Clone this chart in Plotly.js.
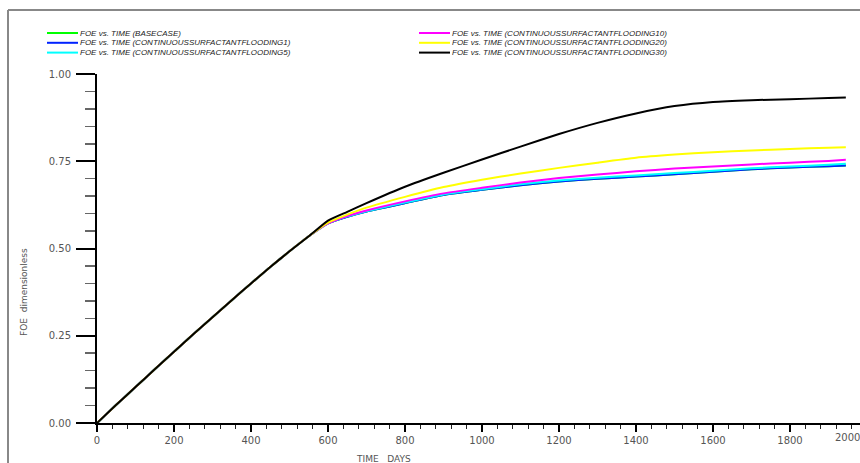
<!DOCTYPE html>
<html>
<head>
<meta charset="utf-8">
<script src="https://cdn.plot.ly/plotly-3.0.1.min.js"></script>
<style>
  html, body { margin: 0; padding: 0; background: #fff; overflow: hidden; }
  #chart { width: 875px; height: 463px; }
</style>
</head>
<body>
<div id="chart"></div>
<script>
// Field oil efficiency (FOE) against simulation time, one run per case.
const days = [0, 50, 100, 150, 200, 250, 300, 350, 400, 450, 500, 550, 600, 650, 700,
              800, 900, 1000, 1100, 1200, 1300, 1400, 1500, 1600, 1700, 1800, 1900, 1945];

const foeBasecase = [0, 0.052, 0.103, 0.154, 0.204, 0.254, 0.303, 0.352, 0.400, 0.447, 0.492, 0.535, 0.572, 0.591, 0.606,
                     0.630, 0.653, 0.668, 0.681, 0.692, 0.700, 0.706, 0.713, 0.720, 0.727, 0.732, 0.736, 0.738];
const foeFlood1   = [0, 0.052, 0.103, 0.154, 0.204, 0.254, 0.303, 0.352, 0.400, 0.447, 0.492, 0.535, 0.572, 0.591, 0.606,
                     0.630, 0.653, 0.668, 0.681, 0.692, 0.700, 0.706, 0.713, 0.720, 0.727, 0.732, 0.736, 0.738];
const foeFlood5   = [0, 0.052, 0.103, 0.154, 0.204, 0.254, 0.303, 0.352, 0.400, 0.447, 0.492, 0.535, 0.572, 0.592, 0.607,
                     0.632, 0.655, 0.670, 0.684, 0.695, 0.703, 0.709, 0.716, 0.723, 0.730, 0.735, 0.740, 0.743];
const foeFlood10  = [0, 0.052, 0.103, 0.154, 0.204, 0.254, 0.303, 0.352, 0.400, 0.447, 0.492, 0.535, 0.572, 0.593, 0.609,
                     0.635, 0.658, 0.674, 0.689, 0.702, 0.712, 0.721, 0.729, 0.735, 0.741, 0.746, 0.751, 0.754];
const foeFlood20  = [0, 0.052, 0.103, 0.154, 0.204, 0.254, 0.303, 0.352, 0.400, 0.447, 0.492, 0.535, 0.574, 0.597, 0.617,
                     0.648, 0.676, 0.697, 0.715, 0.731, 0.746, 0.760, 0.769, 0.776, 0.781, 0.785, 0.789, 0.790];
const foeFlood30  = [0, 0.052, 0.103, 0.154, 0.204, 0.254, 0.303, 0.352, 0.400, 0.447, 0.492, 0.535, 0.580, 0.605, 0.630,
                     0.677, 0.717, 0.755, 0.792, 0.828, 0.860, 0.887, 0.908, 0.920, 0.925, 0.928, 0.931, 0.933];

const seriesNames = [
  'FOE vs. TIME (BASECASE)',
  'FOE vs. TIME (CONTINUOUSSURFACTANTFLOODING1)',
  'FOE vs. TIME (CONTINUOUSSURFACTANTFLOODING5)',
  'FOE vs. TIME (CONTINUOUSSURFACTANTFLOODING10)',
  'FOE vs. TIME (CONTINUOUSSURFACTANTFLOODING20)',
  'FOE vs. TIME (CONTINUOUSSURFACTANTFLOODING30)'
];
const seriesValues = [foeBasecase, foeFlood1, foeFlood5, foeFlood10, foeFlood20, foeFlood30];
const seriesColors = ['#00ff00', '#0022ff', '#00ffff', '#ff00ff', '#ffff00', '#000000'];

const yTickVals = [0, 0.25, 0.5, 0.75, 1];
const yTickText = ['0.00', '0.25', '0.50', '0.75', '1.00'];
const xTickVals = [0, 200, 400, 600, 800, 1000, 1200, 1400, 1600, 1800];
const xTickText = ['0', '200', '400', '600', '800', '1000', '1200', '1400', '1600', '1800'];

// Page geometry (pixels)
const W = 875, H = 463;
const M = { l: 97, r: 8, t: 74, b: 40 };
const plotW = W - M.l - M.r, plotH = H - M.t - M.b;
const px = x => (x - M.l) / plotW;          // pixel -> paper x
const py = y => (H - M.b - y) / plotH;      // pixel -> paper y

const traces = seriesValues.map((vals, i) => ({
  type: 'scatter', mode: 'lines', x: days, y: vals, name: seriesNames[i],
  line: { color: seriesColors[i], width: 2, shape: 'spline', smoothing: 0.5 },
  hoverinfo: 'skip', showlegend: false
}));

const tickFont = { family: 'DejaVu Sans, sans-serif', size: 10, color: '#555' };
const legendFont = { family: 'Liberation Sans, Arial, sans-serif', size: 8, color: '#222' };

const shapes = [
  // outer frame (top and left edges)
  { type: 'line', xref: 'paper', yref: 'paper', x0: px(8), x1: px(W), y0: py(10), y1: py(10),
    line: { color: '#888', width: 2 } },
  { type: 'line', xref: 'paper', yref: 'paper', x0: px(8), x1: px(8), y0: py(10), y1: py(H),
    line: { color: '#888', width: 2 } }
];
const annotations = [];

// two-column legend
seriesNames.forEach((name, i) => {
  const col = i < 3 ? 0 : 1, row = i % 3;
  const lx = col === 0 ? 47 : 419;
  const ly = 33 + row * 9.8;
  shapes.push({ type: 'line', xref: 'paper', yref: 'paper', x0: px(lx), x1: px(lx + 31), y0: py(ly), y1: py(ly),
    line: { color: seriesColors[i], width: 2 } });
  annotations.push({ xref: 'paper', yref: 'paper', x: px(lx + 32), y: py(ly), xanchor: 'left', yanchor: 'middle',
    text: '<i>' + name + '</i>', showarrow: false, font: legendFont, borderpad: 0 });
});

// axis titles
annotations.push({ xref: 'paper', yref: 'paper', x: px(383), y: py(459), xanchor: 'center', yanchor: 'middle',
  text: 'TIME\u00a0\u00a0\u00a0DAYS', showarrow: false, font: { family: 'DejaVu Sans, sans-serif', size: 9, color: '#555' } });
annotations.push({ xref: 'paper', yref: 'paper', x: px(24), y: py(292), xanchor: 'center', yanchor: 'middle', textangle: -90,
  text: 'FOE\u00a0\u00a0dimensionless', showarrow: false, font: { family: 'DejaVu Sans, sans-serif', size: 9, color: '#555' } });
// last x tick label is pulled in so it stays inside the page
annotations.push({ xref: 'x', yref: 'paper', x: 2000, xshift: -20, y: py(438), xanchor: 'center', yanchor: 'middle',
  text: '2000', showarrow: false, font: tickFont });

const layout = {
  width: W, height: H, margin: M,
  paper_bgcolor: '#fff', plot_bgcolor: '#fff', showlegend: false,
  xaxis: {
    range: [0, 2000], showgrid: false, zeroline: false,
    showline: true, linecolor: '#000', linewidth: 2,
    tickmode: 'array', tickvals: xTickVals, ticktext: xTickText,
    ticks: 'outside', ticklen: 7, tickwidth: 2, tickcolor: '#000',
    minor: { dtick: 40, ticks: 'outside', ticklen: 4, tickwidth: 1, tickcolor: '#222' },
    tickfont: tickFont
  },
  yaxis: {
    range: [0, 1], showgrid: false, zeroline: false,
    showline: true, linecolor: '#000', linewidth: 2,
    tickmode: 'array', tickvals: yTickVals, ticktext: yTickText,
    ticks: 'outside', ticklen: 19, tickwidth: 2, tickcolor: '#000',
    minor: { dtick: 0.05, tick0: 0, ticks: 'outside', ticklen: 10, tickwidth: 1.5, tickcolor: '#666' },
    tickfont: tickFont, ticklabelstandoff: 3
  },
  shapes: shapes,
  annotations: annotations
};

Plotly.newPlot('chart', traces, layout, { displayModeBar: false, staticPlot: true });
</script>
</body>
</html>
